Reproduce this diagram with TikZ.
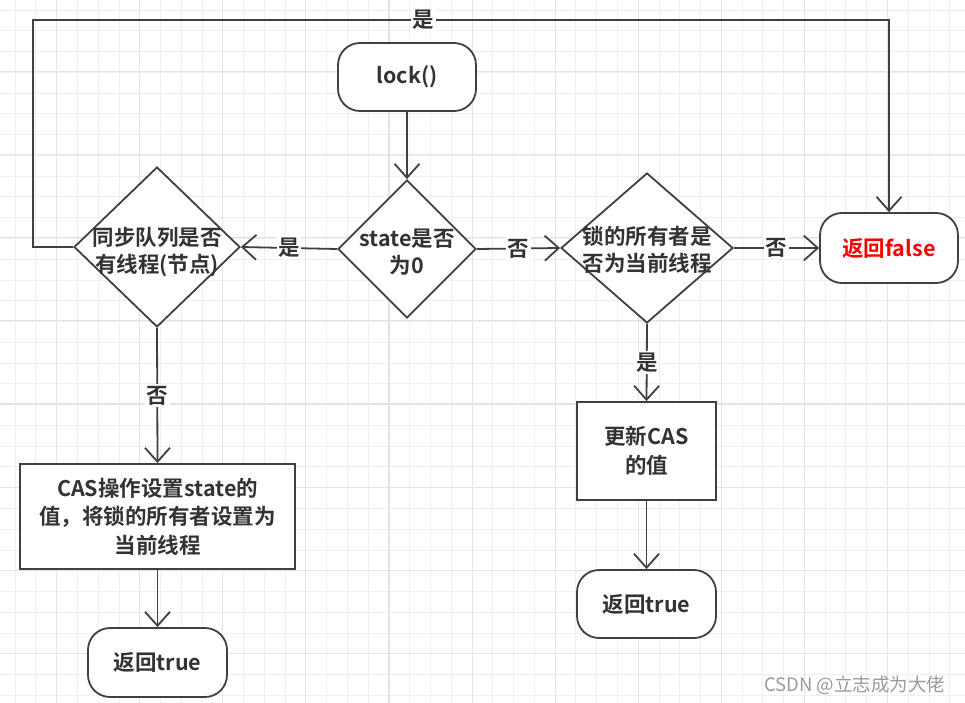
\documentclass[tikz,border=0pt]{standalone}
\usepackage{fontspec}
\setmainfont{Noto Sans CJK SC}[BoldFont={Noto Sans CJK SC Bold}]
\usetikzlibrary{shapes.geometric,arrows.meta}
\definecolor{ln}{HTML}{404040}
\definecolor{txt}{HTML}{333333}
\definecolor{gridminor}{HTML}{EFEFEF}
\definecolor{gridmajor}{HTML}{E4E4E4}
\definecolor{wm}{HTML}{9A9A9A}
\tikzset{
  shapebase/.style={draw=ln, line width=1.8pt, fill=white, text=txt, align=center, inner sep=0pt,
    font=\bfseries\fontsize{21.5}{28.5}\selectfont},
  term/.style={shapebase, rectangle, rounded corners=22pt},
  proc/.style={shapebase, rectangle},
  dec/.style={shapebase, diamond},
  dtxt/.style={text=txt, align=center, inner sep=0pt, font=\bfseries\fontsize{21.5}{27.5}\selectfont},
  arr/.style={draw=ln, line width=1.8pt, -{Straight Barb[length=14pt,width=25pt,line width=1.8pt]}},
  lbl/.style={fill=white, text=txt, inner sep=1.5pt, font=\bfseries\fontsize{21.5}{24}\selectfont},
  gminor/.style={draw=gridminor, line width=0.9pt},
  gmajor/.style={draw=gridmajor, line width=1.1pt}
}
\begin{document}
\begin{tikzpicture}[x=1pt,y=-1pt]
\useasboundingbox (0,0) rectangle (965,703);
\fill[white] (0,0) rectangle (965,703);
% grid
\foreach \i in {0,...,46} {
  \draw[gminor] ({15.1+20.77*\i},0) -- ({15.1+20.77*\i},703);
}
\foreach \i in {0,...,34} {
  \draw[gminor] (0,{10+20.77*\i}) -- (965,{10+20.77*\i});
}
\foreach \i in {0,...,11} {
  \draw[gmajor] ({56.7+83.08*\i},0) -- ({56.7+83.08*\i},703);
}
\foreach \i in {0,...,7} {
  \draw[gmajor] (0,{71.7+83.08*\i}) -- (965,{71.7+83.08*\i});
}
\draw[gmajor] (0,{71.7-83.08}) -- (965,{71.7-83.08});

% nodes
\node[term, minimum width=138pt, minimum height=68pt] (lock) at (407,77) {lock()};
\node[dec, minimum width=138pt, minimum height=138pt] (st) at (407,249) {};
\node[dtxt] (stt) at (407,252) {state是否\\为0};
\node[dec, minimum width=166pt, minimum height=160pt] (q) at (157,247) {};
\node[dtxt] (qt) at (157,252) {同步队列是否\\有线程(节点)};
\node[dec, minimum width=172pt, minimum height=150pt] (own) at (647,248) {};
\node[dtxt] (ownt) at (647,250) {锁的所有者是\\否为当前线程};
\node[term, minimum width=138pt, minimum height=70pt, text=red] (false) at (889,248) {返回false};
\node[proc, minimum width=275pt, minimum height=105pt] (cas) at (157.5,516.5) {CAS操作设置state的\\值，将锁的所有者设置为\\当前线程};
\node[term, minimum width=139pt, minimum height=69pt] (t1) at (157.5,662.5) {返回true};
\node[proc, minimum width=139pt, minimum height=98pt] (upd) at (646.5,451) {更新CAS\\的值};
\node[term, minimum width=139pt, minimum height=68pt] (t2) at (646.5,604) {返回true};

\coordinate (c1) at (33,20);
\coordinate (c2) at (889,20);

% connectors
\draw[arr] (lock.south) -- (st.north);
\draw[arr] (st.west) -- node[lbl] (l1) {是} (q.east);
\draw[arr] (st.east) -- node[lbl] (l2) {否} (own.west);
\draw[arr] (own.east) -- node[lbl] (l3) {否} (false.west);
\draw[arr] (q.south) -- node[lbl] (l4) {否} (cas.north);
\draw[arr] (cas.south) -- (t1.north);
\draw[arr] (own.south) -- node[lbl] (l5) {是} (upd.north);
\draw[arr] (upd.south) -- (t2.north);
\draw[arr] (q.west) -| (c1) -- node[lbl, pos=0.456] (l6) {是} (c2) -- (false.north);

\node[text=wm, font=\fontsize{18.5}{20}\selectfont, anchor=east] (wmk) at (949,685) {CSDN @立志成为大佬};
\end{tikzpicture}
\end{document}
